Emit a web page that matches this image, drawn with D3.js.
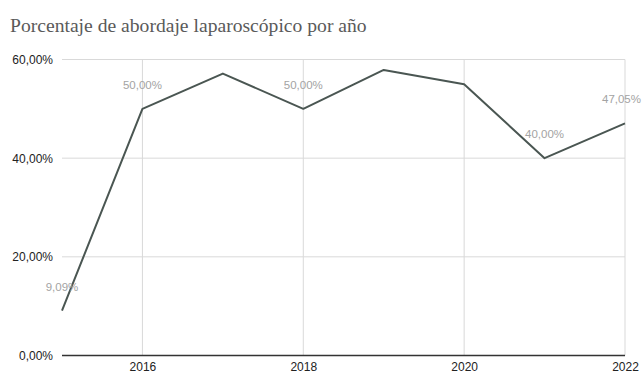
<!DOCTYPE html>
<html><head><meta charset="utf-8">
<script src="https://cdn.jsdelivr.net/npm/d3@7"></script>
<style>html,body{margin:0;padding:0;background:#fff;overflow:hidden}</style>
</head><body>
<svg id="c" width="642" height="373"></svg>
<script>
const title = "Porcentaje de abordaje laparoscópico por año";
const years = [2015, 2016, 2017, 2018, 2019, 2020, 2021, 2022];
const values = [9.09, 50.00, 57.14, 50.00, 57.89, 55.00, 40.00, 47.05];
const labelYears = [2015, 2016, 2018, 2021, 2022];
const yTicks = [0, 20, 40, 60];
const xTicks = [2016, 2018, 2020, 2022];

const svg = d3.select("#c");
const x = d3.scaleLinear().domain([2015, 2022]).range([62, 625]);
const y = d3.scaleLinear().domain([0, 60]).range([355.5, 59.5]);
const fmt = v => d3.format(".2f")(v).replace(".", ",") + "%";

// title, sized to match reference width
const t = svg.append("text").attr("x", 10).attr("y", 32)
  .attr("font-family", "'Liberation Serif','DejaVu Serif',serif")
  .attr("font-size", 20).attr("fill", "#5a5a5a").text(title);
const w = t.node().getComputedTextLength();
t.attr("font-size", 20 * 357 / w);

// grid
svg.append("g").selectAll("line").data(yTicks.filter(d => d > 0)).join("line")
  .attr("x1", 62).attr("x2", 625).attr("y1", d => y(d)).attr("y2", d => y(d))
  .attr("stroke", "#d9d9d9").attr("stroke-width", 1);
svg.append("g").selectAll("line").data(xTicks).join("line")
  .attr("x1", d => x(d)).attr("x2", d => x(d)).attr("y1", y(60)).attr("y2", y(0))
  .attr("stroke", "#d9d9d9").attr("stroke-width", 1);

// axes
const yAxis = d3.axisLeft(y).tickValues(yTicks).tickSize(0).tickPadding(9).tickFormat(fmt);
const gy = svg.append("g").attr("transform", "translate(62,0)").call(yAxis);
gy.select(".domain").remove();
gy.selectAll("text").attr("font-family", "Arial, 'Liberation Sans', sans-serif")
  .attr("font-size", 12).attr("fill", "#222");

const xAxis = d3.axisBottom(x).tickValues(xTicks).tickSize(0).tickPadding(7).tickFormat(d3.format("d"));
const gx = svg.append("g").attr("transform", `translate(0,${y(0)})`).call(xAxis);
gx.select(".domain").remove();
gx.selectAll("text").attr("font-family", "Arial, 'Liberation Sans', sans-serif")
  .attr("font-size", 12).attr("fill", "#222");

svg.append("line").attr("x1", 62).attr("x2", 625).attr("y1", y(0)).attr("y2", y(0))
  .attr("stroke", "#333").attr("stroke-width", 1.5);

// line
const data = years.map((yr, i) => ({yr, v: values[i]}));
svg.append("path").datum(data)
  .attr("d", d3.line().x(d => x(d.yr)).y(d => y(d.v)))
  .attr("fill", "none").attr("stroke", "#4a5652").attr("stroke-width", 2)
  .attr("stroke-linejoin", "round");

// data labels (kept inside the right edge)
svg.append("g").selectAll("text").data(data.filter(d => labelYears.includes(d.yr))).join("text")
  .attr("x", d => x(d.yr)).attr("y", d => y(d.v) - 20)
  .attr("text-anchor", "middle")
  .attr("font-family", "Arial, 'Liberation Sans', sans-serif")
  .attr("font-size", 11.5).attr("fill", "#a3a3a3")
  .text(d => fmt(d.v))
  .each(function() {
    const bb = this.getBBox();
    if (bb.x + bb.width > 641) {
      d3.select(this).attr("text-anchor", "end").attr("x", 641);
    }
  });
</script>
</body></html>
